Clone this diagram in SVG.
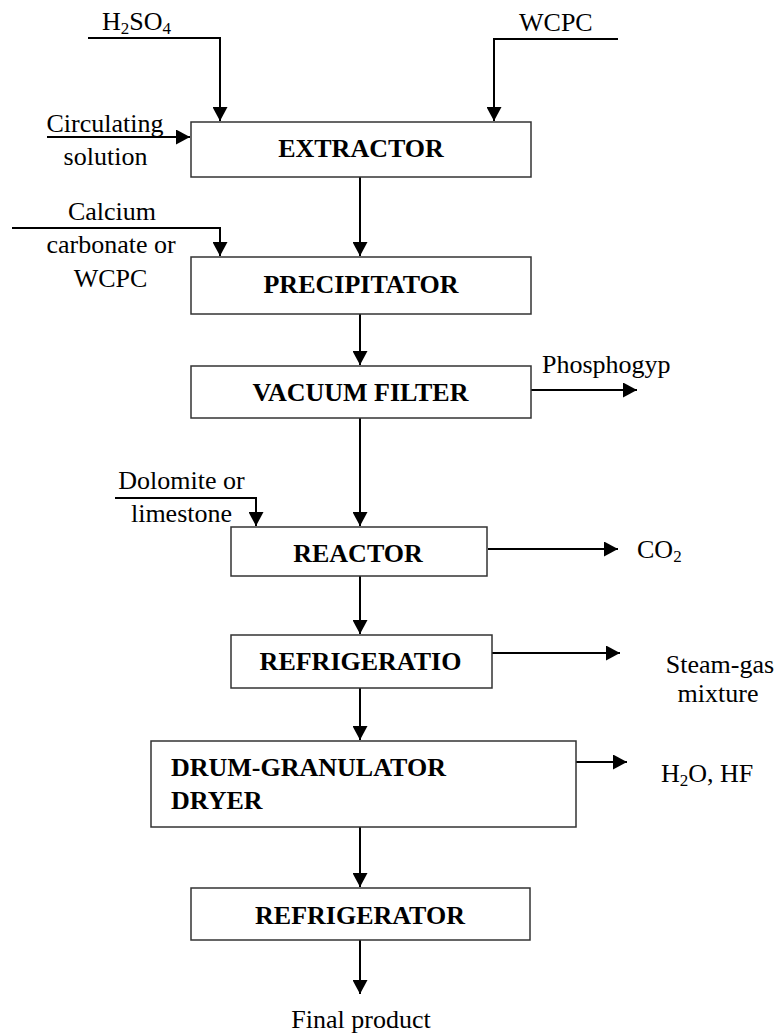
<svg xmlns="http://www.w3.org/2000/svg" width="777" height="1034" viewBox="0 0 777 1034">
<defs>
<marker id="ah" markerUnits="userSpaceOnUse" markerWidth="15" markerHeight="15" refX="14" refY="7.5" orient="auto">
<path d="M0,0 L14,7.5 L0,15 z" fill="#000"/>
</marker>
<style>
text{font-family:"Liberation Serif","Times New Roman",serif;font-size:26px;fill:#000}
.b{font-weight:bold}
.m{text-anchor:middle}
.box{fill:#fff;stroke:#333;stroke-width:1.5}
.c{fill:none;stroke:#000;stroke-width:2;marker-end:url(#ah)}
.sub{font-size:17px}
</style>
</defs>
<rect width="777" height="1034" fill="#fff"/>
<g id="connectors">
<path class="c" d="M88,38 H220 V121"/>
<path class="c" d="M618,39 H494 V121"/>
<path class="c" d="M47,137 H190"/>
<path class="c" d="M360,177 V256"/>
<path class="c" d="M12,228 H220 V256"/>
<path class="c" d="M360,314 V365"/>
<path class="c" d="M531,390 H637"/>
<path class="c" d="M360,418 V526"/>
<path class="c" d="M115,498 H256 V526"/>
<path class="c" d="M488,549 H618"/>
<path class="c" d="M360,576 V634"/>
<path class="c" d="M492,653 H620"/>
<path class="c" d="M360,688 V740"/>
<path class="c" d="M576,762 H627"/>
<path class="c" d="M360,827 V887"/>
<path class="c" d="M360,940 V994"/>
</g>
<g id="extractor">
<rect class="box" x="191" y="122" width="340" height="55"/>
<text class="b m" x="361" y="157">EXTRACTOR</text>
</g>
<g id="precipitator">
<rect class="box" x="191" y="257" width="340" height="57"/>
<text class="b m" x="361" y="293">PRECIPITATOR</text>
</g>
<g id="vacuum-filter">
<rect class="box" x="191" y="366" width="340" height="52"/>
<text class="b m" x="360.5" y="401">VACUUM FILTER</text>
</g>
<g id="reactor">
<rect class="box" x="231" y="527" width="256" height="49"/>
<text class="b m" x="358" y="562">REACTOR</text>
</g>
<g id="refrigeratio">
<rect class="box" x="231" y="635" width="261" height="53"/>
<text class="b m" x="360.5" y="670">REFRIGERATIO</text>
</g>
<g id="drum-granulator-dryer">
<rect class="box" x="151" y="741" width="425" height="86"/>
<text class="b" x="171" y="776">DRUM-GRANULATOR</text>
<text class="b" x="171" y="809">DRYER</text>
</g>
<g id="refrigerator">
<rect class="box" x="191" y="888" width="339" height="52"/>
<text class="b m" x="360" y="924">REFRIGERATOR</text>
</g>
<g id="labels">
<text x="102" y="30">H<tspan class="sub" dy="4">2</tspan><tspan dy="-4">SO</tspan><tspan class="sub" dy="4">4</tspan></text>
<text x="519" y="31">WCPC</text>
<text class="m" x="105" y="132">Circulating</text>
<text class="m" x="105.5" y="165">solution</text>
<text class="m" x="112" y="220">Calcium</text>
<text class="m" x="111" y="253">carbonate or</text>
<text class="m" x="110.5" y="287">WCPC</text>
<text x="542" y="373">Phosphogyp</text>
<text class="m" x="181.5" y="489">Dolomite or</text>
<text class="m" x="181.5" y="522">limestone</text>
<text x="637" y="558">CO<tspan class="sub" dy="4">2</tspan></text>
<text class="m" x="720" y="673">Steam-gas</text>
<text class="m" x="718" y="702">mixture</text>
<text x="661" y="782">H<tspan class="sub" dy="4">2</tspan><tspan dy="-4">O, HF</tspan></text>
<text class="m" x="361" y="1028">Final product</text>
</g>
</svg>
